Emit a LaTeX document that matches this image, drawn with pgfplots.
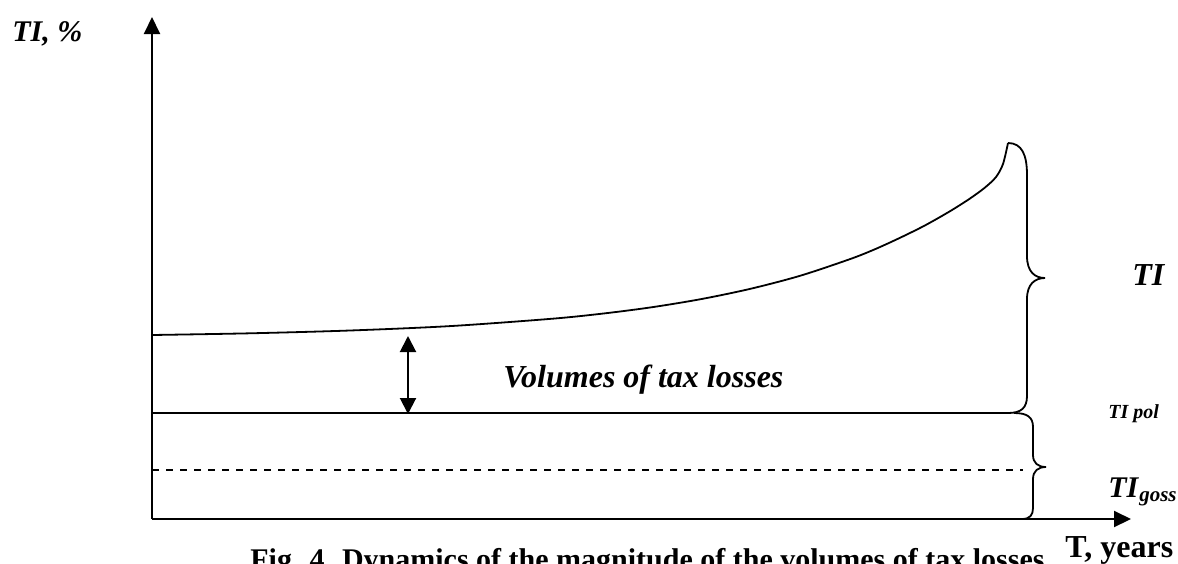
\documentclass[border=0pt]{standalone}
\usepackage{pgfplots}
\pgfplotsset{compat=1.18}
\usepackage{fontspec}
\setmainfont{Liberation Serif}
\usetikzlibrary{arrows.meta}
\begin{document}
\begin{tikzpicture}
\begin{axis}[name=ax, width=589pt, height=281.5pt, scale only axis,
  xmin=0, xmax=1178, ymin=0, ymax=563, y dir=reverse,
  hide axis, clip=false]
% axes
\draw[line width=1pt, -{Triangle[length=8.5pt,width=8pt]}] (axis cs:152,519) -- (axis cs:152,17);
\draw[line width=1pt, -{Triangle[length=8.5pt,width=8pt]}] (axis cs:152,519) -- (axis cs:1131,519);
% TI curve
\addplot[black, line width=0.9pt, smooth, tension=0.5] coordinates {
 (152,335) (250,333.3) (350,330.5) (450,326.1) (550,318.9) (600,313.9) (650,307.5)
 (700,299.3) (750,288.9) (800,275.8) (850,259.1) (875,249.2) (900,237.8) (925,225.4)
 (950,211.2) (970,198.5) (985,187.5) (996,177) (1003,164) (1008,143)};
% TI pol line
\addplot[black, line width=0.9pt] coordinates {(152,413) (1010,413)};
% TI goss dashed line
\addplot[black, line width=0.8pt, dash pattern=on 3.5pt off 3.5pt] coordinates {(152,470) (1023,470)};
% big brace
\draw[line width=0.9pt] (axis cs:1008,143) .. controls (axis cs:1022,143) and (axis cs:1027,155) .. (axis cs:1027,175)
  -- (axis cs:1027,256) .. controls (axis cs:1027,272) and (axis cs:1035,278) .. (axis cs:1045,278)
  .. controls (axis cs:1035,278) and (axis cs:1027,284) .. (axis cs:1027,299)
  -- (axis cs:1027,396) .. controls (axis cs:1027,408) and (axis cs:1021,413) .. (axis cs:1008,413);
% small brace
\draw[line width=0.9pt] (axis cs:1014,413) .. controls (axis cs:1027,413) and (axis cs:1033,417) .. (axis cs:1033,427)
  -- (axis cs:1033,455) .. controls (axis cs:1033,463) and (axis cs:1038,467) .. (axis cs:1046,467)
  .. controls (axis cs:1038,467) and (axis cs:1033,471) .. (axis cs:1033,479)
  -- (axis cs:1033,508) .. controls (axis cs:1033,515) and (axis cs:1030,519) .. (axis cs:1022,519);
% double arrow
\draw[line width=1pt, {Triangle[length=8pt,width=8pt]}-{Triangle[length=8pt,width=8pt]}] (axis cs:408,336) -- (axis cs:408,414);
% labels
\node[anchor=base west, inner sep=0pt] at (axis cs:12,41) {\fontsize{15}{18}\selectfont\textbf{\textit{TI, \%}}};
\node[anchor=base west, inner sep=0pt] at (axis cs:503,387) {\fontsize{16}{19}\selectfont\textbf{\textit{Volumes of tax losses}}};
\node[anchor=base west, inner sep=0pt] at (axis cs:1132,285) {\fontsize{16}{19}\selectfont\textbf{\textit{TI}}};
\node[anchor=base west, inner sep=0pt] at (axis cs:1108,418) {\fontsize{10}{12}\selectfont\textbf{\textit{TI pol}}};
\node[anchor=base west, inner sep=0pt] at (axis cs:1108,497) {\fontsize{15}{18}\selectfont\textbf{\textit{TI}}\raisebox{-2pt}{\fontsize{10.5}{12}\selectfont\textbf{\textit{goss}}}};
\node[anchor=base west, inner sep=0pt] at (axis cs:1065,557) {\fontsize{16}{19}\selectfont\textbf{T, years}};
\node[anchor=base west, inner sep=0pt] at (axis cs:250,569) {\fontsize{15}{18}\selectfont\textbf{Fig. 4. Dynamics of the magnitude of the volumes of tax losses}};
\end{axis}
\pgfresetboundingbox
\useasboundingbox (ax.south west) rectangle (ax.north east);
\end{tikzpicture}
\end{document}
